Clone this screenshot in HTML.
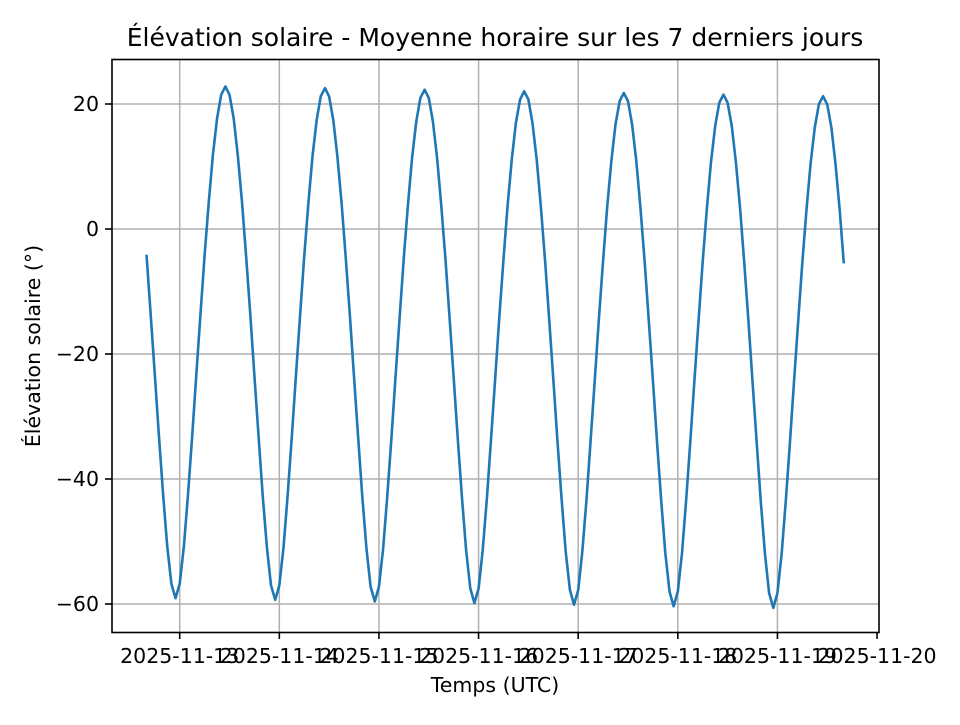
<!DOCTYPE html>
<html><head><meta charset="utf-8"><style>
body{margin:0;background:#fff;}
svg text{font-family:"DejaVu Sans","Liberation Sans",sans-serif;fill:#000;}
</style></head><body>
<svg id="s" width="960" height="720" xmlns="http://www.w3.org/2000/svg">
<rect width="960" height="720" fill="#fff"/>
<g id="grid" stroke="#b0b0b0" stroke-width="1.5"></g>
<polyline id="line" fill="none" stroke="#1f77b4" stroke-width="2.6" stroke-linejoin="round" points=""/>
<rect x="112" y="59.5" width="767" height="573" fill="none" stroke="#000" stroke-width="1.6"/>
<g id="ticks" stroke="#000" stroke-width="1.6"></g>
<g id="labels" font-size="20.5"></g>
<text x="495" y="46" font-size="25" text-anchor="middle">Élévation solaire - Moyenne horaire sur les 7 derniers jours</text>
<text x="495" y="692" font-size="20.5" text-anchor="middle">Temps (UTC)</text>
<text transform="translate(40,346) rotate(-90)" font-size="20.5" text-anchor="middle">Élévation solaire (°)</text>
</svg>
<script>
var ns="http://www.w3.org/2000/svg";
function el(p,t,a,txt){var e=document.createElementNS(ns,t);for(var k in a)e.setAttribute(k,a[k]);if(txt!==undefined)e.textContent=txt;p.appendChild(e);return e;}
var g=document.getElementById('grid'),tk=document.getElementById('ticks'),lb=document.getElementById('labels');
function Y(v){return 229-v*6.25;}
function X(h){return 179.7+h*99.62/24;}
[20,0,-20,-40,-60].forEach(function(v){var y=Y(v);
el(g,'line',{x1:112,x2:879,y1:y,y2:y});
el(tk,'line',{x1:105,x2:112,y1:y,y2:y});
el(lb,'text',{x:99,y:y+7,'text-anchor':'end'},(v<0?'\u2212':'')+Math.abs(v));});
for(var d=0;d<8;d++){var x=X(d*24);
if(d<7)el(g,'line',{x1:x,x2:x,y1:59.5,y2:632.5});
el(tk,'line',{x1:x,x2:x,y1:632.5,y2:639});
el(lb,'text',{x:x,y:663,'text-anchor':'middle'},'2025-11-'+(13+d));}
var pts=[],rad=Math.PI/180,lat=49*rad;
for(var h=-8;h<=160;h++){
var dec=(-18-1.8*(h+8)/168)*rad;
var H=(h-11.0)*15*rad;
var e=Math.asin(Math.sin(lat)*Math.sin(dec)+Math.cos(lat)*Math.cos(dec)*Math.cos(H))/rad;
pts.push(X(h).toFixed(1)+','+Y(e).toFixed(1));}
document.getElementById('line').setAttribute('points',pts.join(' '));
</script>
</body></html>
